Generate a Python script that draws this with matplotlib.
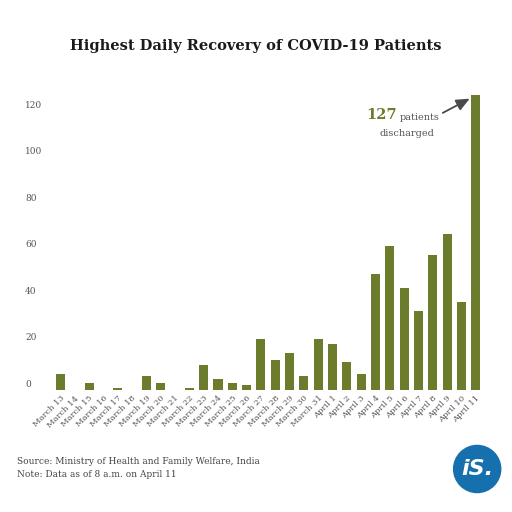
import matplotlib
matplotlib.use('Agg')
import matplotlib.pyplot as plt
import matplotlib.transforms as mtransforms
from matplotlib.patches import Circle

dates = ['March 13', 'March 14', 'March 15', 'March 16', 'March 17', 'March 18',
         'March 19', 'March 20', 'March 21', 'March 22', 'March 23', 'March 24',
         'March 25', 'March 26', 'March 27', 'March 28', 'March 29', 'March 30',
         'March 31', 'April 1', 'April 2', 'April 3', 'April 4', 'April 5',
         'April 6', 'April 7', 'April 8', 'April 9', 'April 10', 'April 11']
recovered = [7, 0, 3, 0, 1, 0, 6, 3, 0, 1, 11, 5, 3, 2, 22, 13, 16, 6, 22, 20,
             12, 7, 50, 62, 44, 34, 58, 67, 38, 127]
yticks = [0, 20, 40, 60, 80, 100, 120]

olive = '#6b7d2d'
grey = '#555555'
serif = ['DejaVu Serif']

fig = plt.figure(figsize=(5.12, 5.12), dpi=100)
ax = fig.add_axes([0.098, 0.238, 0.848, 0.590])

x = range(len(dates))
ax.bar(x, recovered, width=0.63, color=olive)
ax.set_xlim(-0.72, len(dates) - 0.4)
ax.set_ylim(0, 130)

for s in ax.spines.values():
    s.set_visible(False)
ax.tick_params(length=0)

ax.set_yticks(yticks)
ax.set_yticklabels([str(t) for t in yticks], fontsize=6.5, color=grey,
                   family=serif, ha='left')
ax.tick_params(axis='y', pad=18)
# labels sit a little above their value in the original
shift = mtransforms.ScaledTranslation(0, 5 / 72, fig.dpi_scale_trans)
for lab in ax.get_yticklabels():
    lab.set_transform(lab.get_transform() + shift)

ax.set_xticks(list(x))
ax.set_xticklabels(dates, rotation=45, ha='right', rotation_mode='anchor',
                   fontsize=6, color=grey, family=serif)
ax.tick_params(axis='x', pad=3)

fig.text(0.5, 0.91, 'Highest Daily Recovery of COVID-19 Patients',
         ha='center', va='center', fontsize=10.5, fontweight='bold',
         family=serif, color='#1a1a1a')

# annotation for the last bar
fig.text(0.776, 0.775, '127', fontsize=10.5, fontweight='bold', color=olive,
         family=serif, ha='right', va='center')
fig.text(0.781, 0.771, 'patients', fontsize=7, color=grey, family=serif,
         ha='left', va='center')
fig.text(0.794, 0.740, 'discharged', fontsize=7, color=grey, family=serif,
         ha='center', va='center')
ax.annotate('', xy=(len(dates) - 1.25, recovered[-1] - 1),
            xytext=(0.86, 0.777), textcoords='figure fraction',
            arrowprops=dict(arrowstyle='-|>,head_length=0.8,head_width=0.35',
                            color='#4a4a4a', lw=1.3))

fig.text(0.033, 0.099, 'Source: Ministry of Health and Family Welfare, India',
         fontsize=6.5, color='#444444', family=serif, va='center')
fig.text(0.033, 0.074, 'Note: Data as of 8 a.m. on April 11',
         fontsize=6.5, color='#444444', family=serif, va='center')

# logo
logo = Circle((0.932, 0.084), 0.046, transform=fig.transFigure,
              color='#1670ad', zorder=5)
fig.patches.append(logo)
fig.text(0.932, 0.084, 'iS.', ha='center', va='center', fontsize=16,
         fontweight='bold', style='italic', color='white',
         family=['DejaVu Sans'], zorder=6)

fig.savefig('out.png', dpi=100, facecolor='white')
